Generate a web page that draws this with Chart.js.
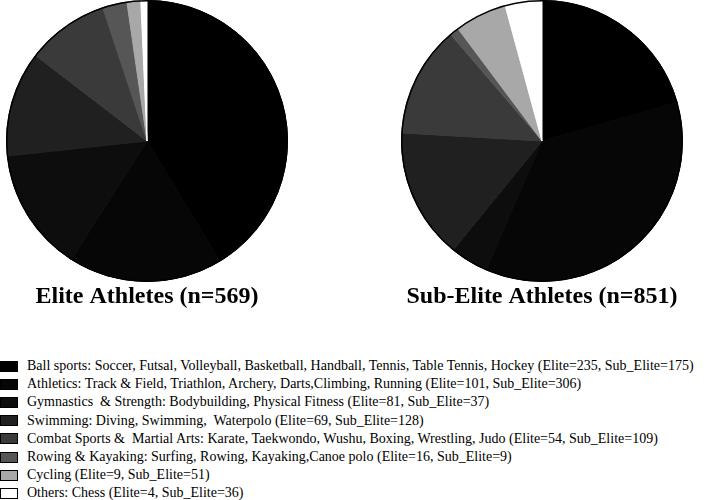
<!DOCTYPE html>
<html>
<head>
<meta charset="utf-8">
<script src="https://cdn.jsdelivr.net/npm/chart.js@4/dist/chart.umd.min.js"></script>
<style>
    body { margin: 0; background: #fff; width: 708px; height: 500px; position: relative; overflow: hidden; }
    .pie { position: absolute; top: 0; width: 294px; height: 312px; }
    #pieElite { left: 0; }
    #pieSub { left: 395px; }
    #legenda { position: absolute; left: 0; top: 357px; font-family: "Liberation Serif", "Times New Roman", serif; font-size: 14px; color: #000; }
    .linha { height: 18.2px; display: flex; align-items: center; white-space: pre; }
    .caixa { width: 16px; height: 9px; border: 1px solid #000; margin-right: 9px; flex: none; }
</style>
</head>
<body>
<div class="pie" id="pieElite"><canvas id="graficoElite" width="294" height="312"></canvas></div>
<div class="pie" id="pieSub"><canvas id="graficoSub" width="294" height="312"></canvas></div>
<div id="legenda"></div>

<script>
// --- DADOS ---
const categorias = [
    'Ball sports: Soccer, Futsal, Volleyball, Basketball, Handball, Tennis, Table Tennis, Hockey',
    'Athletics: Track & Field, Triathlon, Archery, Darts,Climbing, Running',
    'Gymnastics  & Strength: Bodybuilding, Physical Fitness',
    'Swimming: Diving, Swimming,  Waterpolo',
    'Combat Sports &  Martial Arts: Karate, Taekwondo, Wushu, Boxing, Wrestling, Judo',
    'Rowing & Kayaking: Surfing, Rowing, Kayaking,Canoe polo',
    'Cycling',
    'Others: Chess'
];
const valoresElite = [235, 101, 81, 69, 54, 16, 9, 4];
const valoresSubElite = [175, 306, 37, 128, 109, 9, 51, 36];
const titulos = ['Elite Athletes (n=569)', 'Sub-Elite Athletes (n=851)'];
const cores = ['#000000', '#060606', '#0d0d0d', '#202020', '#3a3a3a', '#565656', '#a8a8a8', '#ffffff'];

// contorno exterior do círculo (sem linhas entre fatias)
const contornoPlugin = {
    id: 'contorno',
    afterDatasetsDraw(chart) {
        const arc = chart.getDatasetMeta(0).data[0];
        if (!arc) return;
        const ctx = chart.ctx;
        ctx.save();
        ctx.beginPath();
        ctx.arc(arc.x, arc.y, arc.outerRadius - 0.25, 0, Math.PI * 2);
        ctx.lineWidth = 1.5;
        ctx.strokeStyle = '#000';
        ctx.stroke();
        ctx.restore();
    }
};

function criarPie(canvasId, valores, titulo) {
    const ctx = document.getElementById(canvasId).getContext('2d');
    new Chart(ctx, {
        type: 'pie',
        data: {
            labels: categorias,
            datasets: [{
                data: valores,
                backgroundColor: cores,
                borderColor: cores, // mesma cor para esconder as juntas
                borderWidth: 1
            }]
        },
        options: {
            responsive: false,
            animation: false,
            layout: { padding: 0 },
            plugins: {
                legend: { display: false },
                tooltip: { enabled: false },
                title: {
                    display: true,
                    text: titulo,
                    position: 'bottom',
                    color: '#000',
                    font: { family: '"Liberation Serif", "Times New Roman", serif', size: 24, weight: 'bold', lineHeight: 1 },
                    padding: { top: 3, bottom: 3 }
                }
            }
        },
        plugins: [contornoPlugin]
    });
}

criarPie('graficoElite', valoresElite, titulos[0]);
criarPie('graficoSub', valoresSubElite, titulos[1]);

// --- LEGENDA ---
const legenda = document.getElementById('legenda');
let html = '';
categorias.forEach((cat, i) => {
    html += `<div class="linha"><span class="caixa" style="background:${cores[i]}"></span>` +
            `<span>${cat.replace(/&/g, '&amp;')} (Elite=${valoresElite[i]}, Sub_Elite=${valoresSubElite[i]})</span></div>`;
});
legenda.innerHTML = html;
</script>
</body>
</html>
